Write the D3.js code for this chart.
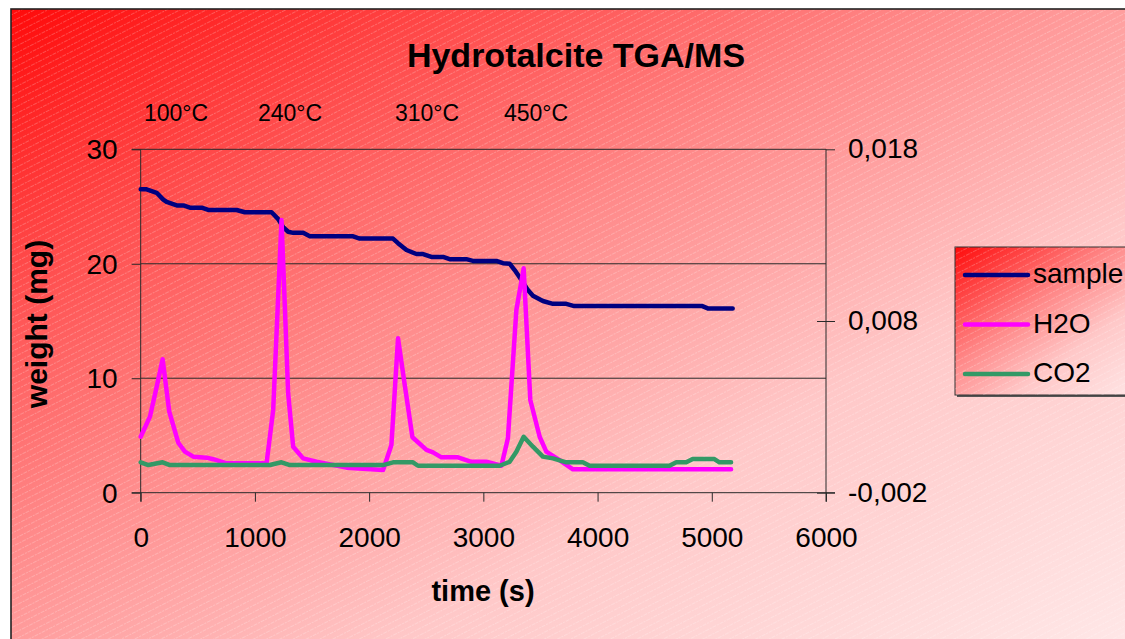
<!DOCTYPE html>
<html>
<head>
<meta charset="utf-8">
<script src="https://cdn.jsdelivr.net/npm/d3@7/dist/d3.min.js"></script>
<style>
  html, body { margin: 0; padding: 0; background: #ffffff; }
  svg { display: block; font-family: "Liberation Sans", Arial, sans-serif; }
</style>
</head>
<body>
<svg id="chart" width="1125" height="639"></svg>
<script>
// ---------------- DATA ----------------
const chartTitle = "Hydrotalcite TGA/MS";
const xTitle = "time (s)";
const yTitle = "weight (mg)";
const seriesNames = ["sample", "H2O", "CO2"];
const seriesColors = ["#000080", "#ff00ff", "#339966"];

const xTicks = [0, 1000, 2000, 3000, 4000, 5000, 6000];
const yLeftTicks = [0, 10, 20, 30];
const yRightTicks = [-0.002, 0.008, 0.018];
const tempLabels = ["100°C", "240°C", "310°C", "450°C"];

// time (s)
const sampleTime = [0,52,140,198,227,315,373,431,534,591,840,912,1146,1204,1247,1291,1335,1422,1481,1860,1918,2209,2253,2327,2414,2472,2545,2647,2705,2851,2909,3114,3172,3230,3274,3332,3390,3434,3521,3609,3726,3796,4917,4965,5183];
// weight (mg)
const sampleWeight = [26.5,26.5,26.2,25.6,25.4,25.1,25.1,24.9,24.9,24.7,24.7,24.5,24.5,23.9,23.2,22.8,22.7,22.7,22.4,22.4,22.2,22.2,21.8,21.2,20.85,20.85,20.6,20.6,20.4,20.4,20.25,20.25,20.05,20.0,19.45,18.6,17.7,17.2,16.75,16.5,16.5,16.3,16.3,16.1,16.1];

const h2oTime = [0,81,140,192,250,329,387,460,577,635,752,1102,1160,1233,1291,1335,1422,1539,1802,2122,2195,2253,2320,2379,2502,2559,2633,2778,2895,3026,3158,3215,3289,3353,3411,3493,3551,3667,3784,5169];
const h2oSignal = [0.00126,0.00243,0.00417,0.00577,0.00272,0.00091,0.00039,0.0001,0.00004,-0.00005,-0.00029,-0.00029,0.00282,0.01388,0.00379,0.00068,0.0,-0.0002,-0.00054,-0.00068,0.00078,0.00699,0.0039,0.00123,0.00049,0.00035,0.00006,0.00006,-0.0002,-0.0002,-0.00043,0.00117,0.00864,0.01107,0.0034,0.00126,0.00039,-0.0001,-0.00064,-0.00064];

const co2Time = [0,67,192,256,1131,1233,1306,2122,2209,2384,2428,3143,3230,3289,3353,3434,3521,3609,3726,3871,3930,4630,4689,4776,4833,5023,5067,5169];
const co2Signal = [-0.00023,-0.00039,-0.00023,-0.00039,-0.00039,-0.00023,-0.00039,-0.00039,-0.00023,-0.00023,-0.00043,-0.00043,-0.0002,0.00039,0.00126,0.00068,0.0001,0.0,-0.00023,-0.00023,-0.00043,-0.00043,-0.00023,-0.00023,-0.00004,-0.00004,-0.00023,-0.00023];

// ---------------- LAYOUT ----------------
const W = 1125, H = 639;
const plot = { left: 140.7, right: 826, top: 149.3, bottom: 492.7 };
const tempLabelX = [144, 258, 395, 504];

const svg = d3.select("#chart");
const defs = svg.append("defs");

function addGradient(id) {
  const g = defs.append("linearGradient").attr("id", id)
    .attr("x1", 0).attr("y1", 0).attr("x2", 1).attr("y2", 1);
  [[0, "#ff0a0a"], [0.2, "#ff4a4a"], [0.4, "#ff8888"], [0.65, "#ffc8c8"], [1, "#ffeaea"]]
    .forEach(([o, c]) => g.append("stop").attr("offset", o).attr("stop-color", c));
}
addGradient("bgGrad");
addGradient("legGrad");

const pat = defs.append("pattern").attr("id", "stripes")
  .attr("patternUnits", "userSpaceOnUse").attr("width", 8).attr("height", 6)
  .attr("patternTransform", "rotate(-27)");
pat.append("line").attr("x1", 0).attr("y1", 0.5).attr("x2", 8).attr("y2", 0.5)
  .attr("stroke", "#ffffff").attr("stroke-width", 1).attr("stroke-opacity", 0.22)
  .attr("stroke-dasharray", "2,1");

// chart area background
svg.append("rect").attr("x", 11).attr("y", 9).attr("width", W + 20).attr("height", H + 20)
  .attr("fill", "url(#bgGrad)");
svg.append("rect").attr("x", 11).attr("y", 9).attr("width", W + 20).attr("height", H + 20)
  .attr("fill", "url(#stripes)");
svg.append("rect").attr("x", 11).attr("y", 9).attr("width", W + 20).attr("height", H + 20)
  .attr("fill", "none").attr("stroke", "#222").attr("stroke-width", 1.6);

// scales
const x = d3.scaleLinear().domain([0, 6000]).range([plot.left, plot.right]);
const yL = d3.scaleLinear().domain([0, 30]).range([plot.bottom, plot.top]);
const yR = d3.scaleLinear().domain([-0.002, 0.018]).range([plot.bottom, plot.top]);

const commaLocale = d3.formatLocale({ decimal: ",", thousands: ".", grouping: [3], currency: ["", ""], minus: "-" });
const fmtR = commaLocale.format(".3f");

// gridlines
svg.append("g").selectAll("line").data(yLeftTicks.filter(d => d > 0)).join("line")
  .attr("x1", plot.left).attr("x2", plot.right)
  .attr("y1", d => yL(d)).attr("y2", d => yL(d))
  .attr("stroke", "#2a2a2a").attr("stroke-width", 1);

// axes
const axisFont = 28;
const gL = svg.append("g").attr("transform", `translate(${plot.left},0)`)
  .call(d3.axisLeft(yL).tickValues(yLeftTicks).tickSize(9).tickPadding(14).tickFormat(d3.format("d")));
const gB = svg.append("g").attr("transform", `translate(0,${plot.bottom})`)
  .call(d3.axisBottom(x).tickValues(xTicks).tickSize(9).tickPadding(25).tickFormat(d3.format("d")));
const gR = svg.append("g").attr("transform", `translate(${plot.right},0)`)
  .call(d3.axisRight(yR).tickValues(yRightTicks).tickSize(9).tickPadding(13).tickFormat(fmtR));
[gL, gB, gR].forEach(g => {
  g.select(".domain").attr("stroke", "#2a2a2a");
  g.selectAll(".tick line").attr("stroke", "#2a2a2a");
  g.selectAll("text").attr("font-size", axisFont).attr("fill", "#000")
    .attr("font-family", "'Liberation Sans', Arial, sans-serif");
});
gL.selectAll("text").attr("dy", "0.34em");
gR.selectAll("text").attr("dy", "0.30em");
gL.select(".domain").attr("d", `M-9,${plot.top}H0V${plot.bottom + 9}`);
gB.select(".domain").attr("d", `M${plot.left - 9},0H${plot.right + 9}`);
gR.select(".domain").attr("d", `M0,${plot.top}V${plot.bottom + 9}`);
gR.selectAll(".tick line").attr("x1", d => d === yRightTicks[2] ? 0 : -9);

// lines
const series = [
  { name: seriesNames[0], t: sampleTime, v: sampleWeight, y: yL, color: seriesColors[0] },
  { name: seriesNames[1], t: h2oTime, v: h2oSignal, y: yR, color: seriesColors[1] },
  { name: seriesNames[2], t: co2Time, v: co2Signal, y: yR, color: seriesColors[2] }
];
series.forEach(s => {
  const line = d3.line().x((d, i) => x(s.t[i])).y((d, i) => s.y(s.v[i]));
  svg.append("path").datum(s.v).attr("d", line)
    .attr("fill", "none").attr("stroke", s.color).attr("stroke-width", 4.5)
    .attr("stroke-linejoin", "round").attr("stroke-linecap", "round");
});

// titles
svg.append("text").attr("x", 576).attr("y", 67).attr("text-anchor", "middle")
  .attr("font-size", 34).attr("font-weight", "bold").text(chartTitle);
svg.append("g").selectAll("text").data(tempLabels).join("text")
  .attr("x", (d, i) => tempLabelX[i]).attr("y", 121)
  .attr("font-size", 23).text(d => d);
svg.append("text").attr("x", 483).attr("y", 601).attr("text-anchor", "middle")
  .attr("font-size", 29).attr("font-weight", "bold").text(xTitle);
svg.append("text").attr("transform", "translate(47,324) rotate(-90)").attr("text-anchor", "middle")
  .attr("font-size", 30).attr("font-weight", "bold").text(yTitle);

// legend
const leg = svg.append("g").attr("transform", "translate(955,247)");
leg.append("rect").attr("x", 2).attr("y", 2).attr("width", 200).attr("height", 148).attr("fill", "#555");
leg.append("rect").attr("width", 200).attr("height", 148).attr("fill", "url(#legGrad)")
  .attr("stroke", "#333").attr("stroke-width", 1);
leg.append("rect").attr("width", 200).attr("height", 148).attr("fill", "url(#stripes)");
const legRows = leg.selectAll("g.row").data(series).join("g")
  .attr("transform", (d, i) => `translate(0,${28 + i * 49.5})`);
legRows.append("line").attr("x1", 10).attr("x2", 73).attr("y1", 0).attr("y2", 0)
  .attr("stroke", d => d.color).attr("stroke-width", 4.5).attr("stroke-linecap", "round");
legRows.append("text").attr("x", 78).attr("y", 8).attr("font-size", 28).text(d => d.name);
</script>
</body>
</html>
